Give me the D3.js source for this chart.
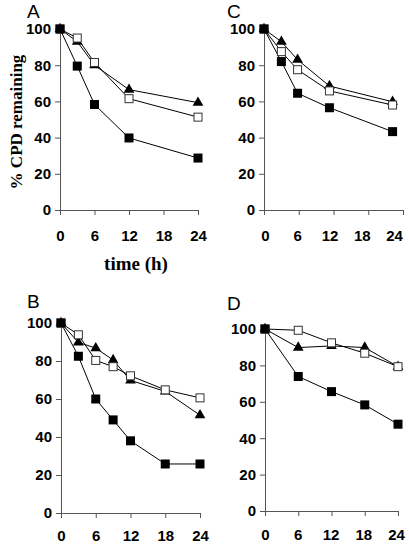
<!DOCTYPE html>
<html><head><meta charset="utf-8">
<script src="https://cdn.jsdelivr.net/npm/d3@7"></script>
<style>
html,body{margin:0;padding:0;background:#fff;}
svg{display:block;}
.tick text{font-family:"Liberation Sans",Arial,sans-serif;font-weight:bold;font-size:15px;fill:#000;}
</style>
</head><body>
<svg id="chart" width="409" height="546"></svg>
<script>
// ---- data ----
const yTicks = [0, 20, 40, 60, 80, 100];
const xTicks = [0, 6, 12, 18, 24];
const xTickLabels = ["0", "6", "12", "18", "24"];

const timeA = [0, 3, 6, 12, 24];
const filledA = [100, 79.5, 58.3, 39.8, 28.7];
const triA = [100, 93, 80, 66.5, 59.3];
const openA = [100, 95, 81.5, 61.5, 51.3];

const timeB = [0, 3, 6, 9, 12, 18, 24];
const filledB = [100, 82.5, 60, 49, 38, 25.8, 25.8];
const triB = [100, 89.8, 86.8, 80.5, 69.8, 64, 51.5];
const openB = [100, 93.8, 80.3, 77, 72.2, 64.8, 60.6];

const timeC = [0, 3, 5.8, 11.3, 22.2];
const filledC = [100, 82, 64.5, 56.5, 43.3];
const triC = [100, 93, 83, 68.5, 59.8];
const openC = [100, 87.5, 77.5, 65.8, 58];

const timeD = [0, 6, 12, 18, 24];
const filledD = [100, 73.9, 65.6, 58.3, 47.7];
const triD = [100, 89.8, 90.7, 89.8, 79.3];
const openD = [100, 99.3, 92.4, 86.7, 79.3];

const panels = [
  {label: "A", t: timeA, filled: filledA, tri: triA, open: openA, x0: 60, x1: 198, lab0: 60, lab1: 198, yTop: 29, yBot: 210, pad: 20, lx: 27, ly: 18},
  {label: "C", t: timeC, filled: filledC, tri: triC, open: openC, x0: 264, x1: 403, lab0: 265, lab1: 394, yTop: 29, yBot: 210, pad: 20, lx: 227, ly: 18},
  {label: "B", t: timeB, filled: filledB, tri: triB, open: openB, x0: 61, x1: 200, lab0: 61, lab1: 200, yTop: 323, yBot: 513, pad: 17, lx: 27, ly: 308},
  {label: "D", t: timeD, filled: filledD, tri: triD, open: openD, x0: 265, x1: 398, lab0: 265, lab1: 396, yTop: 329, yBot: 511, pad: 18, lx: 227, ly: 310}
];

const svg = d3.select("#chart");

panels.forEach(p => {
  const x = d3.scaleLinear().domain([0, 24]).range([p.x0, p.x1]);
  const xLab = d3.scaleLinear().domain([0, 24]).range([p.lab0, p.lab1]);
  const y = d3.scaleLinear().domain([0, 100]).range([p.yBot, p.yTop]);
  const g = svg.append("g");

  const yAxis = g.append("g").attr("transform", `translate(${p.x0},0)`)
    .call(d3.axisLeft(y).tickValues(yTicks).tickSize(5).tickPadding(4).tickFormat(d3.format("d")));
  const xAxis = g.append("g").attr("transform", `translate(0,${p.yBot})`)
    .call(d3.axisBottom(x).tickValues(xTicks).tickSize(5).tickFormat(""));
  const xLabels = g.append("g").attr("transform", `translate(0,${p.yBot})`)
    .call(d3.axisBottom(xLab).tickValues(xTicks).tickSize(0).tickPadding(p.pad).tickFormat((d, i) => xTickLabels[i]));
  xLabels.select(".domain").remove();
  [yAxis, xAxis].forEach(a => {
    a.select(".domain").attr("stroke", "#555").attr("stroke-width", 1);
    a.selectAll(".tick line").attr("stroke", "#555");
  });

  g.append("text").attr("x", p.lx).attr("y", p.ly).text(p.label)
    .attr("font-family", "Liberation Sans, Arial, sans-serif").attr("font-size", 19);

  const line = d3.line().x(d => x(d[0])).y(d => y(d[1]));
  const series = [
    {vals: p.tri, type: "tri"},
    {vals: p.open, type: "open"},
    {vals: p.filled, type: "filled"}
  ];
  series.forEach(s => {
    const pts = p.t.map((t, i) => [t, s.vals[i]]);
    g.append("path").datum(pts).attr("d", line).attr("fill", "none").attr("stroke", "#000").attr("stroke-width", 1);
  });
  series.forEach(s => {
    const pts = p.t.map((t, i) => [t, s.vals[i]]);
    if (s.type === "tri") {
      g.selectAll(null).data(pts).enter().append("path")
        .attr("d", d3.symbol().type(d3.symbolTriangle).size(50))
        .attr("transform", d => `translate(${x(d[0])},${y(d[1])})`)
        .attr("fill", "#000");
    } else if (s.type === "open") {
      g.selectAll(null).data(pts).enter().append("rect")
        .attr("x", d => x(d[0]) - 4).attr("y", d => y(d[1]) - 4)
        .attr("width", 8).attr("height", 8)
        .attr("fill", "#fff").attr("stroke", "#333").attr("stroke-width", 1);
    } else {
      g.selectAll(null).data(pts).enter().append("rect")
        .attr("x", d => x(d[0]) - 4.5).attr("y", d => y(d[1]) - 4.5)
        .attr("width", 9).attr("height", 9)
        .attr("fill", "#000");
    }
  });
});

// axis titles
svg.append("text").attr("x", 136).attr("y", 270).attr("text-anchor", "middle")
  .attr("font-family", "Liberation Serif, Times New Roman, serif").attr("font-weight", "bold").attr("font-size", 19)
  .text("time (h)");
svg.append("text").attr("transform", "translate(22,122) rotate(-90)").attr("text-anchor", "middle")
  .attr("font-family", "Liberation Serif, Times New Roman, serif").attr("font-weight", "bold").attr("font-size", 17)
  .text("% CPD remaining");
</script>
</body></html>
